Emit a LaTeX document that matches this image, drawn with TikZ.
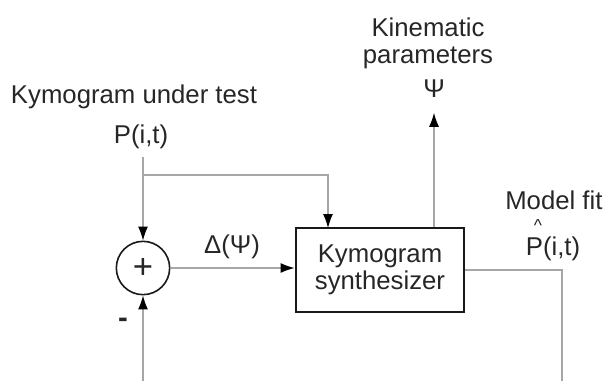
\documentclass[tikz,border=0pt]{standalone}
\usepackage{fontspec}
\setmainfont{Liberation Sans}
\usetikzlibrary{arrows.meta,positioning}

\begin{document}
\begin{tikzpicture}[x=0.75pt, y=-0.75pt,
  every node/.style={font=\fontsize{19.3}{20}\selectfont, text=black!85, inner sep=0pt},
  sumnode/.style={circle, draw=black!90, line width=1.2pt, minimum size=40pt},
  synthbox/.style={draw=black!90, line width=2.2pt, minimum width=126pt, minimum height=63pt, align=center},
  wire/.style={draw=black!35, line width=0.9pt},
  tip/.style={-{Latex[length=10.5pt, width=7.5pt, color=black]}}]
  \useasboundingbox (0,0) rectangle (605,381);
  \clip (0,0) rectangle (605,381);
  % Inputs and outputs
  \node (title) at (134,97) {Kymogram under test};
  \node (pin) at (141,137) {P(i,t)};
  \node (kin) at (428,27) {Kinematic};
  \node (params) at (428,58) {parameters};
  \node (psi) at (434,89) {Ψ};
  \node[anchor=west] (fit) at (505,200) {Model fit};
  \node[font=\fontsize{13}{13}\selectfont] (hat) at (538,226) {\textasciicircum};
  \node (phat) at (553,249) {P(i,t)};
  % Loop
  \node[sumnode, font=\fontsize{26}{26}\selectfont] (sum) at (143,268) {+};
  \node[synthbox] (synth) at (380,270) {Kymogram\\synthesizer};
  \node (delta) at (232,247) {Δ(Ψ)};
  \node[font=\fontsize{22}{22}\selectfont\bfseries] (minus) at (123,323) {-};
  \coordinate (tap) at (143,175);
  \coordinate (in2) at (328,228);
  \coordinate (corner) at (562,270);
  \coordinate (fbR) at (562,381);
  \coordinate (fbL) at (143,381);
  \draw[wire, tip, shorten <=6pt] (pin.south -| sum.north) -- (sum.north);
  \draw[wire, tip] (tap) -| (in2);
  \draw[wire, tip] (sum.east) -- (sum.east -| synth.west);
  \draw[wire, tip, shorten >=11pt] (synth.north -| psi) -- (psi.south);
  \draw[wire] (synth.east) -- (corner) -- (fbR);
  \draw[wire, tip] (fbL) -- (sum.south);
\end{tikzpicture}
\end{document}
